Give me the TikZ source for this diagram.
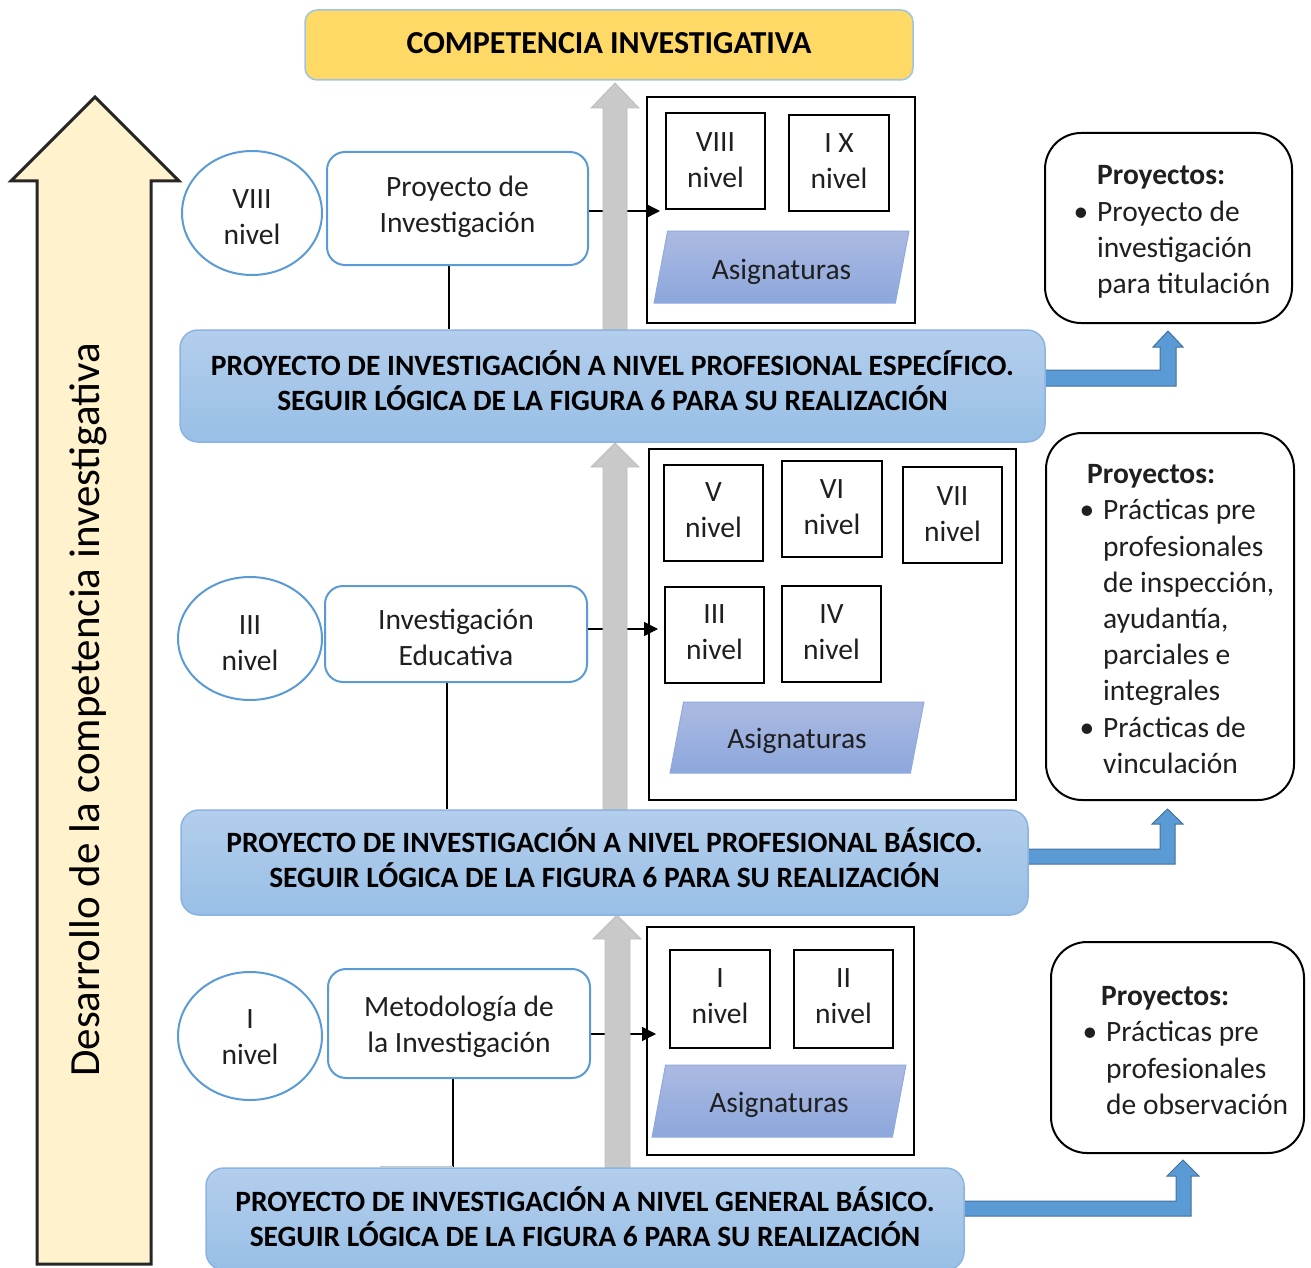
\documentclass[tikz,border=0pt]{standalone}
\usepackage{fontspec}
\setmainfont{Carlito}
\usetikzlibrary{shapes.geometric,arrows.meta,backgrounds}
\definecolor{accblue}{HTML}{5B9BD5}
\definecolor{blueedge}{HTML}{41719C}
\definecolor{bandtop}{HTML}{B4CEEC}
\definecolor{bandbot}{HTML}{98BFE6}
\definecolor{bandedge}{HTML}{8CB4E2}
\definecolor{asigtop}{HTML}{ACBAE2}
\definecolor{asigbot}{HTML}{8CA7DC}
\definecolor{asigedge}{HTML}{8FAADC}
\definecolor{gold}{HTML}{FFD966}
\definecolor{goldedge}{HTML}{9DC3E6}
\definecolor{cream}{HTML}{FFF2CC}
\definecolor{grayarr}{HTML}{C9C9C9}
\definecolor{grayedge}{HTML}{BDBDBD}
\newcommand\bul{\llap{\textbullet\hspace{9pt}}}
% centred lines, shifted vertically by #1 without changing the box size
\newcommand\mylines[2]{\raisebox{#1}[\height][\depth]{\begin{tabular}{@{}c@{}}#2\end{tabular}}}
\begin{document}
\begin{tikzpicture}[x=1pt,y=-1pt,
  reg/.style={font=\fontsize{29.5}{36}\selectfont, text=black!88},
  lvl/.style={reg, ellipse, draw=accblue, line width=2pt, fill=white, inner sep=0pt},
  subj/.style={reg, rectangle, rounded corners=18pt, draw=accblue, line width=2pt, fill=white, inner sep=0pt},
  frm/.style={draw=black, line width=2pt, inner sep=0pt},
  lvlbox/.style={reg, draw=black, line width=2pt, fill=white, inner sep=0pt},
  asig/.style={reg, trapezium, trapezium left angle=77, trapezium right angle=103, trapezium stretches=true, draw=asigedge, line width=1pt, top color=asigtop, bottom color=asigbot, inner sep=0pt},
  band/.style={rounded corners=18pt, draw=bandedge, line width=1.5pt, top color=bandtop, bottom color=bandbot, inner sep=0pt, font=\bfseries\fontsize{29.5}{35}\selectfont, text=black},
  proj/.style={rounded corners=36pt, draw=black, line width=2pt, fill=white, inner sep=0pt},
  projtxt/.style={font=\fontsize{29.5}{36.2}\selectfont, text=black!88, align=left, inner sep=0pt, anchor=west},
  conn/.style={black, line width=1.5pt},
  harrow/.style={conn, -{Triangle[length=14pt,width=14pt]}},
  grayarrow/.style={fill=grayarr, draw=grayedge, line width=0.8pt},
  bluearrow/.style={fill=accblue, draw=blueedge, line width=1pt},
  bigarrow/.style={fill=cream, draw=black!85, line width=3pt, line join=miter}
]
\useasboundingbox (0,0) rectangle (1311,1268);

% top goal
\node[rounded corners=12pt, draw=goldedge, line width=1.5pt, fill=gold, minimum width=608pt, minimum height=70pt, font=\bfseries\fontsize{32}{36}\selectfont, text=black] (comp) at (609,45) {\mylines{-1pt}{COMPETENCIA INVESTIGATIVA}};

% development label
\node[rotate=90, font=\fontsize{43}{45}\selectfont, text=black, inner sep=0pt] (dev) at (88,710) {Desarrollo de la competencia investigativa};

% ---------- section A ----------
\node[lvl, minimum width=140pt, minimum height=124pt] (lvA) at (252,213) {\mylines{-6.5pt}{VIII\\nivel}};
\node[subj, minimum width=261pt, minimum height=113pt] (pA) at (457.5,208.5) {\mylines{1.5pt}{Proyecto de\\Investigación}};
\node[frm, minimum width=268pt, minimum height=226pt] (frA) at (781,210) {};
\node[lvlbox, minimum width=99pt, minimum height=96pt] (nA1) at (715.5,161) {\mylines{-1pt}{VIII\\nivel}};
\node[lvlbox, minimum width=100pt, minimum height=96pt] (nA2) at (839,163) {\mylines{-0.5pt}{I X\\nivel}};
\node[asig, minimum width=255pt, minimum height=72pt] (asA) at (781.5,267) {\mylines{-5pt}{Asignaturas}};
\node[band, minimum width=865pt, minimum height=112pt] (bdA) at (612.5,386) {\mylines{0pt}{PROYECTO DE INVESTIGACIÓN A NIVEL PROFESIONAL ESPECÍFICO.\\SEGUIR LÓGICA DE LA FIGURA 6 PARA SU REALIZACIÓN}};
\node[proj, minimum width=247pt, minimum height=190pt] (prA) at (1168.5,228) {};
\node[projtxt] (ptA) at (1097,232) {\textbf{Proyectos:}\\\bul Proyecto de\\investigación\\para titulación};

% ---------- section B ----------
\node[lvl, minimum width=144pt, minimum height=123pt] (lvB) at (250,638.5) {\mylines{-7pt}{III\\nivel}};
\node[subj, minimum width=262pt, minimum height=96pt] (pB) at (456,634) {\mylines{-6.5pt}{Investigación\\Educativa}};
\node[frm, minimum width=367pt, minimum height=351pt] (frB) at (832.5,624.5) {};
\node[lvlbox, minimum width=99pt, minimum height=96pt] (nB1) at (713.5,513) {\mylines{1pt}{V\\nivel}};
\node[lvlbox, minimum width=100pt, minimum height=96pt] (nB2) at (832,509) {\mylines{0pt}{VI\\nivel}};
\node[lvlbox, minimum width=99pt, minimum height=96pt] (nB3) at (952.5,515) {\mylines{-1pt}{VII\\nivel}};
\node[lvlbox, minimum width=99pt, minimum height=96pt] (nB4) at (714.5,635) {\mylines{0.5pt}{III\\nivel}};
\node[lvlbox, minimum width=99pt, minimum height=96pt] (nB5) at (831.5,634) {\mylines{-0.5pt}{IV\\nivel}};
\node[asig, minimum width=254pt, minimum height=71pt] (asB) at (797,737.5) {\mylines{-4pt}{Asignaturas}};
\node[band, minimum width=847pt, minimum height=105pt] (bdB) at (604.5,862.5) {\mylines{0pt}{PROYECTO DE INVESTIGACIÓN A NIVEL PROFESIONAL BÁSICO.\\SEGUIR LÓGICA DE LA FIGURA 6 PARA SU REALIZACIÓN}};
\node[proj, minimum width=248pt, minimum height=367pt] (prB) at (1170,616.5) {};
\node[projtxt] (ptB) at (1087,619) {\textbf{Proyectos:}\\\hspace*{16pt}\bul Prácticas pre\\\hspace*{16pt}profesionales\\\hspace*{16pt}de inspección,\\\hspace*{16pt}ayudantía,\\\hspace*{16pt}parciales e\\\hspace*{16pt}integrales\\\hspace*{16pt}\bul Prácticas de\\\hspace*{16pt}vinculación};

% ---------- section C ----------
\node[lvl, minimum width=144pt, minimum height=128pt] (lvC) at (250,1036) {\mylines{-3pt}{I\\nivel}};
\node[subj, minimum width=262pt, minimum height=109pt] (pC) at (459,1023.5) {\mylines{-3.5pt}{Metodología de\\la Investigación}};
\node[frm, minimum width=267pt, minimum height=228pt] (frC) at (780.5,1041) {};
\node[lvlbox, minimum width=100pt, minimum height=98pt] (nC1) at (720,999) {\mylines{0.5pt}{I\\nivel}};
\node[lvlbox, minimum width=99pt, minimum height=98pt] (nC2) at (843.5,999) {\mylines{0.5pt}{II\\nivel}};
\node[asig, minimum width=254pt, minimum height=72pt] (asC) at (779,1101) {\mylines{-4pt}{Asignaturas}};
\node[band, minimum width=758pt, minimum height=102pt] (bdC) at (585,1219) {\mylines{-3pt}{PROYECTO DE INVESTIGACIÓN A NIVEL GENERAL BÁSICO.\\SEGUIR LÓGICA DE LA FIGURA 6 PARA SU REALIZACIÓN}};
\node[proj, minimum width=253pt, minimum height=211pt] (prC) at (1177.5,1047.5) {};
\node[projtxt] (ptC) at (1101,1050.5) {\textbf{Proyectos:}\\\hspace*{5pt}\bul Prácticas pre\\\hspace*{5pt}profesionales\\\hspace*{5pt}de observación};

% connector end points
\coordinate (tA) at (660,211);
\coordinate (tB) at (658,629);
\coordinate (tC) at (656,1034);
\coordinate (lA) at ([xshift=-8.5pt]pA.south);
\coordinate (lB) at ([xshift=-9pt]pB.south);
\coordinate (lC) at ([xshift=-6pt]pC.south);
\coordinate (fC) at (380,1166);

\begin{scope}[on background layer]
  % big development arrow
  \draw[bigarrow] (37,1264) -- (37,181) -- (11,181) -- (95,97) -- (179,181) -- (151,181) -- (151,1264) -- cycle;
  % connectors
  \draw[harrow] (pA.east |- tA) -- (tA);
  \draw[harrow] (pB.east |- tB) -- (tB);
  \draw[harrow] (pC.east |- tC) -- (tC);
  \draw[conn] (lA) -- (lA |- bdA.north);
  \draw[conn] (lB) -- (lB |- bdB.north);
  \draw[conn] (lC) -- (lC |- bdC.north);
  \draw[gray!45, line width=1pt] (fC) -- (fC -| lC);
  % gray upward arrows
  \draw[grayarrow] (603,330) -- (603,108) -- (591,108) -- (615,83) -- (639,108) -- (627,108) -- (627,330) -- cycle;
  \draw[grayarrow] (603,810) -- (603,467) -- (591,467) -- (615,443) -- (639,467) -- (627,467) -- (627,810) -- cycle;
  \draw[grayarrow] (605,1168) -- (605,939) -- (593,939) -- (617,915) -- (641,939) -- (630,939) -- (630,1168) -- cycle;
  % blue bent arrows
  \draw[bluearrow] (1030,370) -- (1160,370) -- (1160,347) -- (1153,347) -- (1168,331) -- (1183,347) -- (1176,347) -- (1176,386) -- (1030,386) -- cycle;
  \draw[bluearrow] (1015,849) -- (1160,849) -- (1160,824) -- (1152,824) -- (1167.5,809) -- (1183,824) -- (1175,824) -- (1175,864) -- (1015,864) -- cycle;
  \draw[bluearrow] (950,1201) -- (1176,1201) -- (1176,1176) -- (1167,1176) -- (1183,1160) -- (1199,1176) -- (1191,1176) -- (1191,1216) -- (950,1216) -- cycle;
\end{scope}
\end{tikzpicture}
\end{document}
